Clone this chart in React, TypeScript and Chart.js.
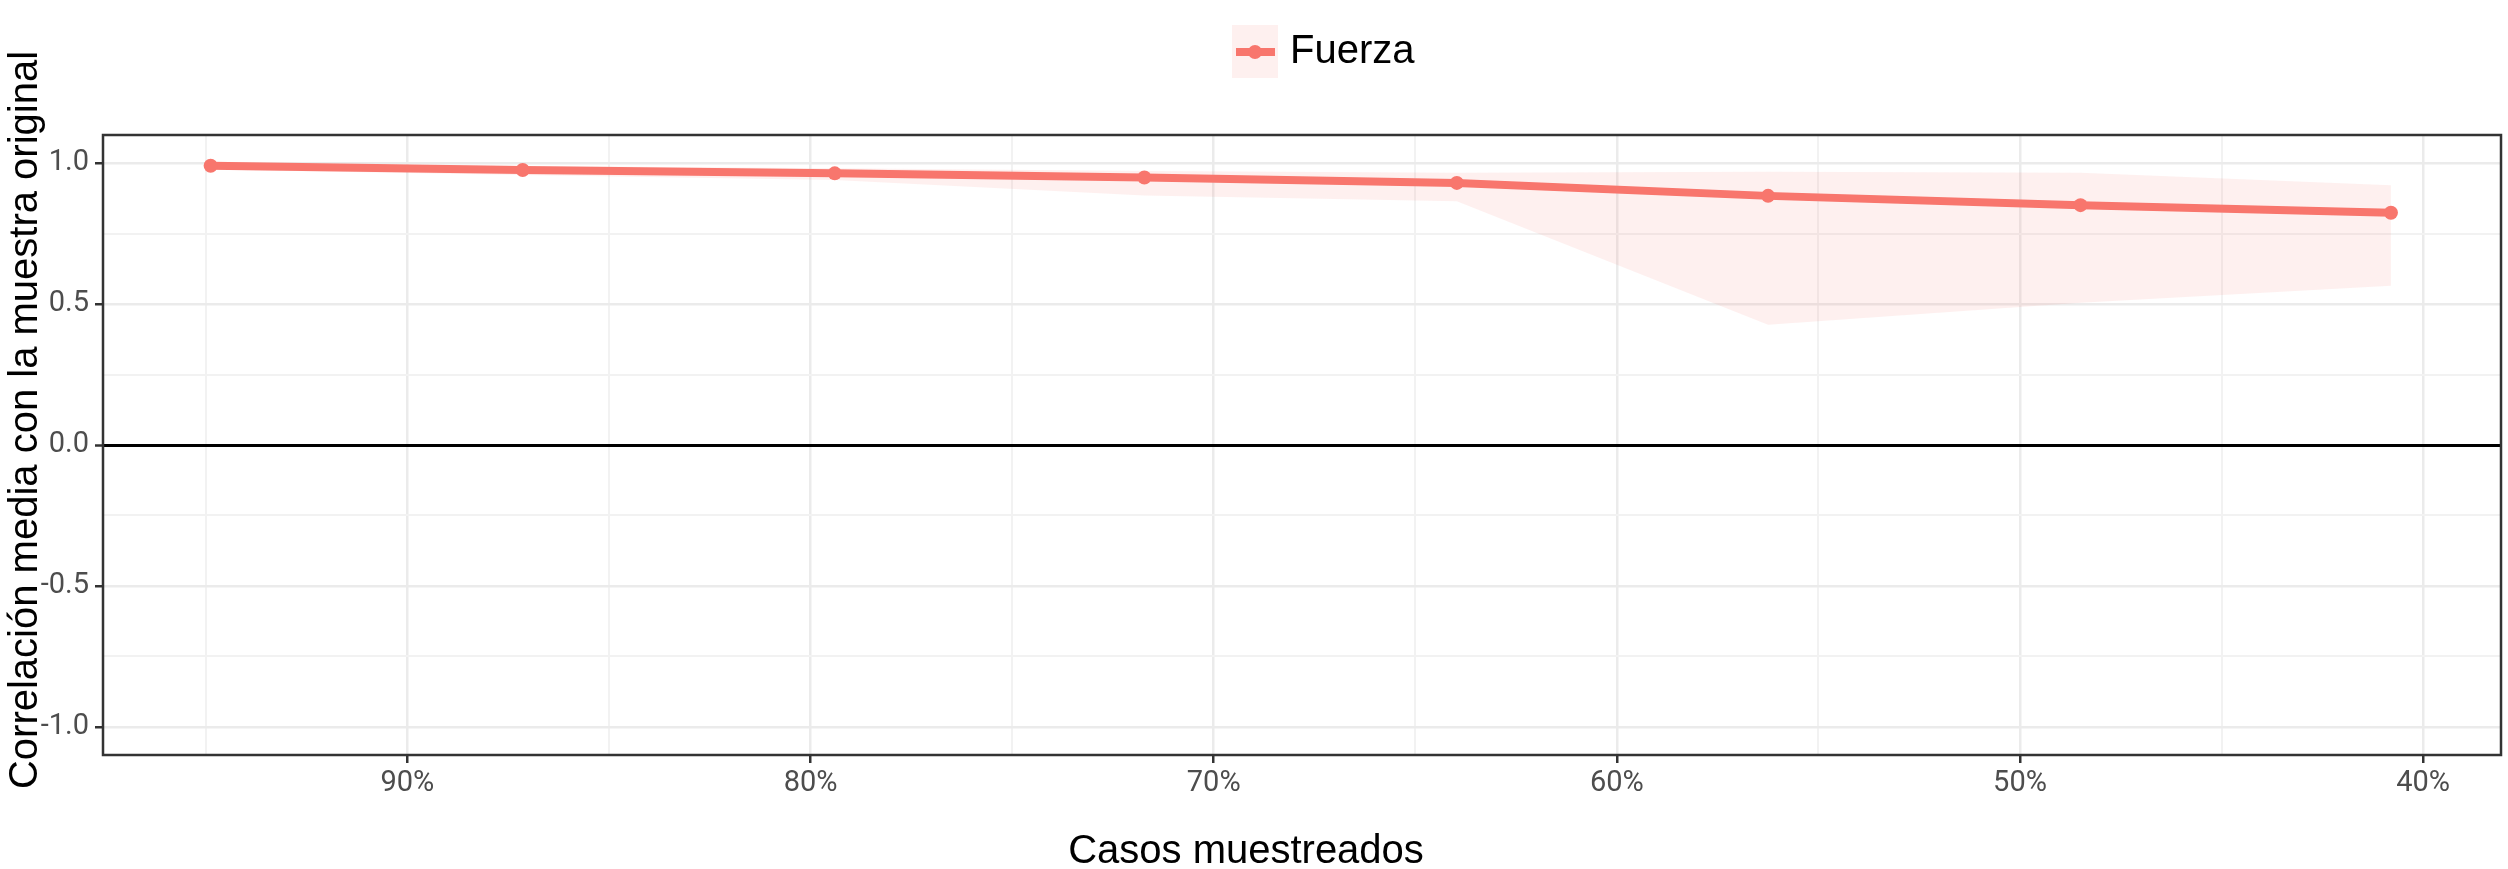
import React, { useEffect, useRef } from "react";
import { Chart, registerables } from "chart.js";

Chart.register(...registerables);

// ---- data ----
const SAMPLED_PCT = [94.88, 87.14, 79.4, 71.72, 63.97, 56.25, 48.5, 40.8];
const FUERZA = [0.991, 0.976, 0.964, 0.949, 0.93, 0.884, 0.851, 0.824];
const FUERZA_LOW = [0.978, 0.958, 0.94, 0.885, 0.865, 0.427, 0.505, 0.565];
const FUERZA_HIGH = [1.0, 0.99, 0.982, 0.972, 0.966, 0.97, 0.966, 0.922];
const X_TICKS = [95, 90, 85, 80, 75, 70, 65, 60, 55, 50, 45, 40];
const X_LABELED = [90, 80, 70, 60, 50, 40];
const Y_TICKS = [-1, -0.75, -0.5, -0.25, 0, 0.25, 0.5, 0.75, 1];
const Y_LABELED = [-1, -0.5, 0, 0.5, 1];
const SERIES_NAME = "Fuerza";
const X_TITLE = "Casos muestreados";
const Y_TITLE = "Correlación media con la muestra original";

const LINE_COLOR = "#F8766D";
const RIBBON_COLOR = "rgba(248,118,109,0.11)";
const TICK_FONT = "'Liberation Sans Narrow', Roboto, 'Liberation Sans', sans-serif";
const TITLE_FONT = "'Liberation Sans', Arial, sans-serif";

const W = 2508;
const H = 869;

const decorPlugin = {
  id: "decor",
  afterDatasetsDraw(chart: any) {
    const { ctx, chartArea } = chart;
    ctx.save();
    ctx.strokeStyle = "#333333";
    ctx.lineWidth = 2.5;
    ctx.strokeRect(chartArea.left, chartArea.top, chartArea.right - chartArea.left, chartArea.bottom - chartArea.top);
    ctx.restore();
  },
  afterDraw(chart: any) {
    const { ctx } = chart;
    ctx.save();
    // x title
    ctx.fillStyle = "#000";
    ctx.font = `40px ${TITLE_FONT}`;
    ctx.textAlign = "center";
    ctx.textBaseline = "alphabetic";
    ctx.fillText(X_TITLE, 1246, 863);
    // y title
    ctx.save();
    ctx.translate(37, 420);
    ctx.rotate(-Math.PI / 2);
    ctx.fillText(Y_TITLE, 0, 0);
    ctx.restore();
    // legend
    ctx.fillStyle = RIBBON_COLOR;
    ctx.fillRect(1232, 25, 46, 53);
    ctx.strokeStyle = LINE_COLOR;
    ctx.lineWidth = 8;
    ctx.beginPath();
    ctx.moveTo(1236, 52);
    ctx.lineTo(1275, 52);
    ctx.stroke();
    ctx.fillStyle = LINE_COLOR;
    ctx.beginPath();
    ctx.arc(1255, 52, 7, 0, Math.PI * 2);
    ctx.fill();
    ctx.fillStyle = "#000";
    ctx.textAlign = "left";
    ctx.font = `40px ${TITLE_FONT}`;
    ctx.fillText(SERIES_NAME, 1290, 63);
    ctx.restore();
  },
};

export default function App() {
  const ref = useRef<HTMLCanvasElement | null>(null);

  useEffect(() => {
    if (!ref.current) return;
    const pts = (ys: number[]) => SAMPLED_PCT.map((x, i) => ({ x, y: ys[i] }));
    const chart = new Chart(ref.current, {
      type: "line",
      data: {
        datasets: [
          {
            label: SERIES_NAME,
            data: pts(FUERZA),
            borderColor: LINE_COLOR,
            backgroundColor: LINE_COLOR,
            borderWidth: 8,
            pointRadius: 7,
            pointBorderWidth: 0,
            pointBackgroundColor: LINE_COLOR,
            fill: false,
            tension: 0,
          },
          {
            label: "low",
            data: pts(FUERZA_LOW),
            borderWidth: 0,
            borderColor: "rgba(0,0,0,0)",
            pointRadius: 0,
            fill: false,
          },
          {
            label: "high",
            data: pts(FUERZA_HIGH),
            borderWidth: 0,
            borderColor: "rgba(0,0,0,0)",
            backgroundColor: RIBBON_COLOR,
            pointRadius: 0,
            fill: "-1",
          },
        ],
      },
      options: {
        animation: false,
        responsive: false,
        events: [],
        layout: { padding: { top: 135, right: 3, bottom: 0, left: 0 } },
        plugins: {
          legend: { display: false },
          tooltip: { enabled: false },
          title: { display: false },
        },
        scales: {
          x: {
            type: "linear",
            reverse: true,
            min: 38.07,
            max: 97.55,
            afterBuildTicks: (scale: any) => {
              scale.ticks = X_TICKS.map((v) => ({ value: v }));
            },
            afterFit: (scale: any) => {
              scale.height = H - 755;
            },
            border: { display: false },
            grid: {
              drawOnChartArea: true,
              drawTicks: true,
              tickLength: 8,
              color: (c: any) => (X_LABELED.includes(c.tick?.value) ? "#EBEBEB" : "#F2F2F2"),
              lineWidth: (c: any) => (X_LABELED.includes(c.tick?.value) ? 2.5 : 2),
              tickColor: (c: any) => (X_LABELED.includes(c.tick?.value) ? "#333333" : "rgba(0,0,0,0)"),
              tickWidth: 2.5,
            },
            ticks: {
              autoSkip: false,
              maxRotation: 0,
              padding: 3,
              color: "#4D4D4D",
              font: { family: TICK_FONT, size: 29 },
              callback: (v: any) => (X_LABELED.includes(Number(v)) ? `${v}%` : ""),
            },
          },
          y: {
            type: "linear",
            min: -1.1,
            max: 1.1,
            afterBuildTicks: (scale: any) => {
              scale.ticks = Y_TICKS.map((v) => ({ value: v }));
            },
            afterFit: (scale: any) => {
              scale.width = 103;
            },
            border: { display: false },
            grid: {
              drawTicks: true,
              tickLength: 8,
              color: (c: any) => {
                const v = c.tick?.value;
                if (v === 0) return "#000000";
                return Y_LABELED.includes(v) ? "#EBEBEB" : "#F2F2F2";
              },
              lineWidth: (c: any) => {
                const v = c.tick?.value;
                if (v === 0) return 3;
                return Y_LABELED.includes(v) ? 2.5 : 2;
              },
              tickColor: (c: any) => (Y_LABELED.includes(c.tick?.value) ? "#333333" : "rgba(0,0,0,0)"),
              tickWidth: 2.5,
            },
            ticks: {
              autoSkip: false,
              padding: 6,
              color: "#4D4D4D",
              font: { family: TICK_FONT, size: 29 },
              callback: (v: any) => (Y_LABELED.includes(Number(v)) ? Number(v).toFixed(1) : ""),
            },
          },
        },
      },
      plugins: [decorPlugin],
    } as any);
    return () => chart.destroy();
  }, []);

  return (
    <div style={{ position: "absolute", left: 0, top: 0, width: W, height: H, background: "#fff" }}>
      <canvas ref={ref} width={W} height={H} style={{ display: "block" }} />
    </div>
  );
}
